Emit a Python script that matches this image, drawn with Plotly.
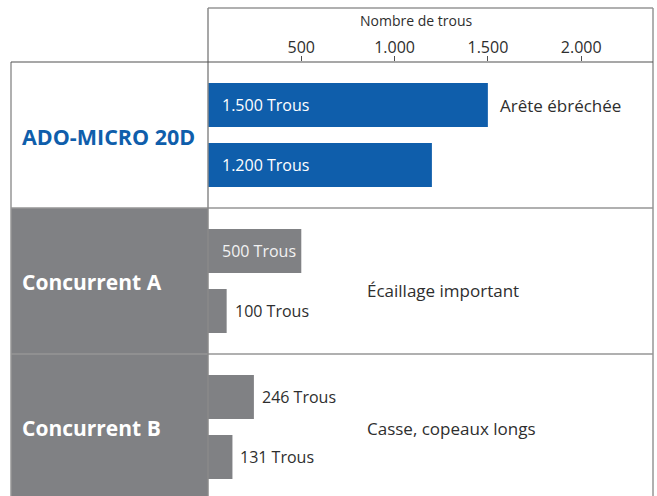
import plotly.graph_objects as go

# ---------------- data ----------------
groups = ["ADO-MICRO 20D", "Concurrent A", "Concurrent B"]
first_values = [1500, 500, 246]
second_values = [1200, 100, 131]
remarks = ["Arête ébréchée", "Écaillage important", "Casse, copeaux longs"]
tick_values = [500, 1000, 1500, 2000]
tick_labels = ["500", "1.000", "1.500", "2.000"]
axis_title = "Nombre de trous"
unit = "Trous"

# ---------------- style / layout ----------------
W, H = 657, 496
PL, PR, PT = 208, 653, 62   # plot area in pixels
SECTION_PX = 146
FONT = "Open Sans"
BLUE = "#0f5eab"
GREY = "#808184"
LINE = "#969696"
DARK = "#2e2e2e"
group_colors = [BLUE, GREY, GREY]
label_colors = [BLUE, "white", "white"]
label_sizes = [21.5, 21, 21]
cell_fills = ["white", GREY, GREY]
bar_offsets = [43 / SECTION_PX, 103 / SECTION_PX]
bar_width = 44 / SECTION_PX
remark_y = [43 / SECTION_PX, 82 / SECTION_PX, 74 / SECTION_PX]
remark_x_px = [500, 367, 367]
XMAX = 2385


def fmt(v):
    return f"{v:,}".replace(",", ".")


def px_to_paper_x(px):
    return (px - PL) / (PR - PL)


def px_to_paper_y(py):
    return (H - py) / (H - PT)


ymax = (H - PT) / SECTION_PX

fig = go.Figure()
for si, vals in enumerate([first_values, second_values]):
    fig.add_trace(go.Bar(
        x=vals,
        y=[g + bar_offsets[si] for g in range(len(groups))],
        orientation="h",
        width=bar_width,
        marker=dict(color=group_colors, line=dict(width=0)),
        hoverinfo="x",
        showlegend=False,
    ))

shapes = []
annotations = []
left_px = 11
# left cells
for gi, name in enumerate(groups):
    shapes.append(dict(type="rect", xref="paper", yref="y",
                       x0=px_to_paper_x(left_px), x1=0, y0=gi, y1=gi + 1,
                       fillcolor=cell_fills[gi], line=dict(width=0), layer="below"))
    annotations.append(dict(xref="paper", yref="y", x=px_to_paper_x(20), y=gi + 0.51,
                            text=f"<b>{name}</b>", showarrow=False, xanchor="left",
                            yanchor="middle",
                            font=dict(family=FONT, size=label_sizes[gi],
                                      color=label_colors[gi])))
    # remarks
    annotations.append(dict(xref="paper", yref="y", x=px_to_paper_x(remark_x_px[gi] - 2),
                            y=gi + remark_y[gi], text=remarks[gi], showarrow=False,
                            xanchor="left", yanchor="middle",
                            font=dict(family=FONT, size=17, color=DARK)))
    # bar labels
    for si, vals in enumerate([first_values, second_values]):
        v = vals[gi]
        inside = v >= 400
        if inside:
            col = "white" if gi == 0 else "#f2f2f2"
            annotations.append(dict(xref="x", yref="y", x=0, y=gi + bar_offsets[si],
                                    text=f"{fmt(v)} {unit}", showarrow=False,
                                    xanchor="left", yanchor="middle", xshift=12,
                                    font=dict(family=FONT, size=16, color=col)))
        else:
            annotations.append(dict(xref="x", yref="y", x=v, y=gi + bar_offsets[si],
                                    text=f"{fmt(v)} {unit}", showarrow=False,
                                    xanchor="left", yanchor="middle", xshift=6,
                                    font=dict(family=FONT, size=16, color=DARK)))

# section separators
for gi in range(1, len(groups)):
    shapes.append(dict(type="line", xref="paper", yref="y",
                       x0=px_to_paper_x(left_px), x1=1, y0=gi, y1=gi,
                       line=dict(color=LINE, width=1.5)))
# left border of cells
shapes.append(dict(type="line", xref="paper", yref="paper",
                   x0=px_to_paper_x(left_px), x1=px_to_paper_x(left_px), y0=0, y1=1,
                   line=dict(color=LINE, width=1.5)))
# top border and vertical frame lines
top = px_to_paper_y(8)
shapes.append(dict(type="line", xref="paper", yref="paper", x0=0, x1=1, y0=top, y1=top,
                   line=dict(color=LINE, width=1.5)))
shapes.append(dict(type="line", xref="paper", yref="paper", x0=0, x1=0, y0=0, y1=top,
                   line=dict(color="#8a8a8a", width=1.5)))
shapes.append(dict(type="line", xref="paper", yref="paper", x0=1, x1=1, y0=0, y1=top,
                   line=dict(color=LINE, width=1.5)))
# axis line
shapes.append(dict(type="line", xref="paper", yref="paper",
                   x0=px_to_paper_x(left_px), x1=1, y0=1, y1=1,
                   line=dict(color="#505050", width=1.2)))

annotations.append(dict(xref="paper", yref="paper", x=px_to_paper_x(416),
                        y=px_to_paper_y(20), text=axis_title, showarrow=False,
                        xanchor="center", yanchor="middle",
                        font=dict(family=FONT, size=14, color=DARK)))

fig.update_layout(
    width=W, height=H,
    margin=dict(l=PL, r=W - PR, t=PT, b=0, pad=0),
    paper_bgcolor="white", plot_bgcolor="white",
    barmode="overlay",
    shapes=shapes,
    annotations=annotations,
    xaxis=dict(side="top", range=[0, XMAX], tickvals=tick_values, ticktext=tick_labels,
               showgrid=False, zeroline=False, showline=False,
               ticks="outside", ticklen=5, tickwidth=1, tickcolor="#505050",
               ticklabelstandoff=-3,
               tickfont=dict(family=FONT, size=16, color=DARK), fixedrange=True),
    yaxis=dict(range=[ymax, 0], showticklabels=False, showgrid=False,
               zeroline=False, showline=False, fixedrange=True),
    font=dict(family=FONT),
)

fig.write_html(
    "out.html",
    config={"displayModeBar": False},
    post_script="document.body.style.margin='0';document.body.style.overflow='hidden';",
)
